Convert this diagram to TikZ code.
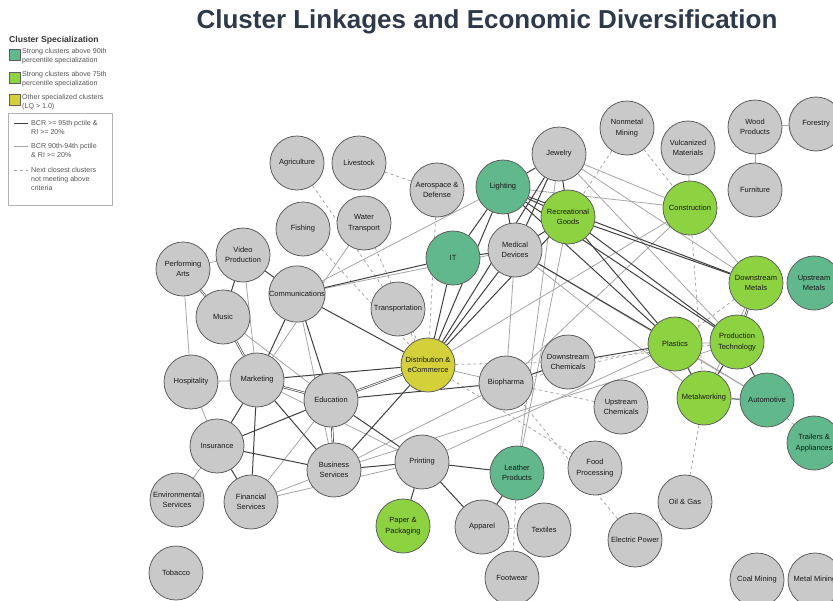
\documentclass[tikz,border=0pt]{standalone}
\usepackage{fontspec}
\setmainfont{Liberation Sans}
\usetikzlibrary{backgrounds}
\definecolor{topclr}{RGB}{96,184,140}
\definecolor{midclr}{RGB}{141,210,64}
\definecolor{othclr}{RGB}{212,208,58}
\definecolor{nodeclr}{RGB}{201,201,201}
\definecolor{rimclr}{RGB}{95,95,95}
\definecolor{titleclr}{RGB}{46,58,74}
\definecolor{legclr}{RGB}{85,85,85}
\begin{document}
\begin{tikzpicture}[x=1pt, y=-1pt,
    cl/.style   = {circle, draw=rimclr, line width=0.8pt, fill=nodeclr, align=center, inner sep=0,
                   minimum size=54pt, text=black!90, font=\fontsize{7.5}{10.5}\selectfont},
    top/.style  = {cl, fill=topclr},
    mid/.style  = {cl, fill=midclr},
    oth/.style  = {cl, fill=othclr},
    strong/.style = {draw=black!75, line width=1pt},
    pair/.style   = {draw=black!75, double=white, double distance=0.9pt, line width=0.65pt},
    weak/.style   = {draw=black!35, line width=0.8pt},
    near/.style   = {draw=black!35, line width=0.8pt, dash pattern=on 3pt off 3pt},
    swatch/.style = {draw=rimclr, line width=0.6pt, minimum size=11.5pt, inner sep=0},
    legtext/.style = {anchor=west, align=left, inner sep=0, text=legclr, font=\fontsize{7.1}{9}\selectfont}]

    \useasboundingbox (0,0) rectangle (833,600);

    \node[font=\fontsize{26}{30}\selectfont\bfseries, text=titleclr] (title) at (487,22) {Cluster Linkages and Economic Diversification};

    \node[anchor=west, inner sep=0, text=black!80, font=\fontsize{8.6}{10}\selectfont\bfseries] (lhead) at (9,40) {Cluster Specialization};
    \node[swatch, fill=topclr] (sw1) at (15,55) {};
    \node[swatch, fill=midclr] (sw2) at (15,78) {};
    \node[swatch, fill=othclr] (sw3) at (15,100) {};
    \node[legtext] (lt1) at (22,56.5)  {Strong clusters above 90th\\percentile specialization};
    \node[legtext] (lt2) at (22,79.5)  {Strong clusters above 75th\\percentile specialization};
    \node[legtext] (lt3) at (22,102.5) {Other specialized clusters\\(LQ \textgreater{} 1.0)};
    \node[draw=black!30, line width=0.6pt, anchor=north west, minimum width=104pt, minimum height=92pt] (lbox) at (8,113) {};
    \draw[strong] (14,123) -- (28,123);
    \draw[weak]   (14,146) -- (28,146);
    \draw[near]   (14,170) -- (28,170);
    \node[legtext] (lt4) at (31,127.5) {BCR \textgreater= 95th pctile \&\\RI \textgreater= 20\%};
    \node[legtext] (lt5) at (31,150.5) {BCR 90th-94th pctile\\\& RI \textgreater= 20\%};
    \node[legtext] (lt6) at (31,179)   {Next closest clusters\\not meeting above\\criteria};

    \node[cl]  (agri)   at (297,163) {Agriculture};
    \node[cl]  (live)   at (359,163) {Livestock};
    \node[cl]  (aero)   at (437,190) {Aerospace \&\\Defense};
    \node[top] (light)  at (503,187) {Lighting};
    \node[cl]  (jew)    at (559,154) {Jewelry};
    \node[cl]  (nonmet) at (627,128) {Nonmetal\\Mining};
    \node[cl]  (vulc)   at (688,148) {Vulcanized\\Materials};
    \node[cl]  (wood)   at (755,127) {Wood\\Products};
    \node[cl]  (forest) at (816,124) {Forestry};
    \node[cl]  (furn)   at (755,190) {Furniture};
    \node[cl]  (fish)   at (303,229) {Fishing};
    \node[cl]  (water)  at (364,223) {Water\\Transport};
    \node[mid] (recr)   at (568,217) {Recreational\\Goods};
    \node[mid] (constr) at (690,208) {Construction};
    \node[top] (it)     at (453,258) {IT};
    \node[cl]  (med)    at (515,250) {Medical\\Devices};
    \node[cl]  (perf)   at (183,269) {Performing\\Arts};
    \node[cl]  (video)  at (243,255) {Video\\Production};
    \node[cl]  (comm)   at (297,294) {Communications};
    \node[cl]  (transp) at (398,309) {Transportation};
    \node[mid] (dmet)   at (756,283) {Downstream\\Metals};
    \node[top] (umet)   at (814,283) {Upstream\\Metals};
    \node[cl]  (music)  at (223,317) {Music};
    \node[mid] (plast)  at (675,344) {Plastics};
    \node[mid] (prod)   at (737,342) {Production\\Technology};
    \node[oth] (dist)   at (428,365) {Distribution \&\\eCommerce};
    \node[cl]  (dchem)  at (568,362) {Downstream\\Chemicals};
    \node[cl]  (bio)    at (506,383) {Biopharma};
    \node[cl]  (hosp)   at (191,382) {Hospitality};
    \node[cl]  (mkt)    at (257,380) {Marketing};
    \node[cl]  (edu)    at (331,400) {Education};
    \node[mid] (metw)   at (704,398) {Metalworking};
    \node[top] (auto)   at (767,400) {Automotive};
    \node[cl]  (uchem)  at (621,407) {Upstream\\Chemicals};
    \node[cl]  (ins)    at (217,446) {Insurance};
    \node[cl]  (bus)    at (334,470) {Business\\Services};
    \node[cl]  (print)  at (422,462) {Printing};
    \node[top] (leath)  at (517,473) {Leather\\Products};
    \node[cl]  (food)   at (595,468) {Food\\Processing};
    \node[top] (trail)  at (814,443) {Trailers \&\\Appliances};
    \node[cl]  (env)    at (177,500) {Environmental\\Services};
    \node[cl]  (fin)    at (251,502) {Financial\\Services};
    \node[mid] (paper)  at (403,526) {Paper \&\\Packaging};
    \node[cl]  (app)    at (482,527) {Apparel};
    \node[cl]  (textl)  at (544,530) {Textiles};
    \node[cl]  (oil)    at (685,502) {Oil \& Gas};
    \node[cl]  (elec)   at (635,540) {Electric Power};
    \node[cl]  (tob)    at (176,573) {Tobacco};
    \node[cl]  (foot)   at (512,578) {Footwear};
    \node[cl]  (coal)   at (757,580) {Coal Mining};
    \node[cl]  (metmin) at (815,580) {Metal Mining};

    \begin{scope}[on background layer]
    \draw[near] (agri) -- (transp);
    \draw[near] (live) -- (aero);
    \draw[near] (aero) -- (dist);
    \draw[near] (fish) -- (dist);
    \draw[near] (water) -- (dist);
    \draw[near] (transp) -- (dist);
    \draw[near] (nonmet) -- (constr);
    \draw[near] (nonmet) -- (recr);
    \draw[near] (constr) -- (metw);
    \draw[near] (metw) -- (oil);
    \draw[near] (oil) -- (elec);
    \draw[near] (elec) -- (bio);
    \draw[near] (food) -- (dist);
    \draw[near] (bio) -- (uchem);
    \draw[near] (dist) -- (dchem);
    \draw[near] (plast) -- (bio);
    \draw[near] (prod) -- (dchem);
    \draw[near] (leath) -- (foot);
    \draw[near] (app) -- (textl);
    \draw[near] (auto) -- (trail);
    \draw[near] (dmet) -- (plast);

    \draw[weak] (perf) -- (video);
    \draw[weak] (perf) -- (hosp);
    \draw[weak] (hosp) -- (mkt);
    \draw[weak] (hosp) -- (ins);
    \draw[weak] (ins) -- (env);
    \draw[weak] (video) -- (mkt);
    \draw[weak] (music) -- (edu);
    \draw[weak] (comm) -- (bus);
    \draw[weak] (mkt) -- (print);
    \draw[weak] (mkt) -- (water);
    \draw[weak] (fin) -- (edu);
    \draw[weak] (fin) -- (bus);
    \draw[weak] (fin) -- (print);
    \draw[weak] (bus) -- (bio);
    \draw[weak] (bus) -- (prod);
    \draw[weak] (print) -- (plast);
    \draw[weak] (comm) -- (light);
    \draw[weak] (comm) -- (med);
    \draw[weak] (dist) -- (bio);
    \draw[weak] (dist) -- (constr);
    \draw[weak] (leath) -- (jew);
    \draw[weak] (leath) -- (recr);
    \draw[weak] (bio) -- (med);
    \draw[weak] (jew) -- (constr);
    \draw[weak] (jew) -- (dmet);
    \draw[weak] (jew) -- (prod);
    \draw[weak] (light) -- (constr);
    \draw[weak] (med) -- (auto);
    \draw[weak] (med) -- (metw);
    \draw[weak] (constr) -- (vulc);
    \draw[weak] (constr) -- (bio);
    \draw[weak] (constr) -- (dmet);
    \draw[weak] (wood) -- (furn);
    \draw[weak] (wood) -- (forest);
    \draw[weak] (plast) -- (prod);
    \draw[weak] (plast) -- (auto);
    \draw[weak] (dmet) -- (metw);

    \draw[pair]   (perf) -- (music);
    \draw[strong] (video) -- (music);
    \draw[strong] (video) -- (comm);
    \draw[pair]   (music) -- (mkt);
    \draw[strong] (comm) -- (mkt);
    \draw[strong] (comm) -- (edu);
    \draw[strong] (comm) -- (dist);
    \draw[pair]   (mkt) -- (edu);
    \draw[strong] (mkt) -- (ins);
    \draw[strong] (mkt) -- (fin);
    \draw[strong] (mkt) -- (bus);
    \draw[strong] (mkt) -- (dist);
    \draw[strong] (ins) -- (edu);
    \draw[strong] (ins) -- (bus);
    \draw[strong] (ins) -- (fin);
    \draw[pair]   (edu) -- (bus);
    \draw[pair]   (edu) -- (dist);
    \draw[strong] (edu) -- (bio);
    \draw[strong] (edu) -- (print);
    \draw[strong] (bus) -- (dist);
    \draw[strong] (bus) -- (print);
    \draw[strong] (print) -- (leath);
    \draw[strong] (print) -- (paper);
    \draw[strong] (print) -- (app);
    \draw[strong] (app) -- (leath);
    \draw[strong] (dist) -- (it);
    \draw[strong] (dist) -- (light);
    \draw[strong] (dist) -- (med);
    \draw[strong] (dist) -- (jew);
    \draw[strong] (dist) -- (recr);
    \draw[strong] (light) -- (jew);
    \draw[strong] (light) -- (med);
    \draw[strong] (light) -- (recr);
    \draw[strong] (light) -- (it);
    \draw[strong] (it) -- (med);
    \draw[strong] (it) -- (comm);
    \draw[strong] (med) -- (jew);
    \draw[strong] (med) -- (recr);
    \draw[strong] (jew) -- (recr);
    \draw[strong] (recr) -- (dmet);
    \draw[strong] (recr) -- (plast);
    \draw[strong] (recr) -- (prod);
    \draw[strong] (light) -- (prod);
    \draw[strong] (light) -- (plast);
    \draw[strong] (med) -- (plast);
    \draw[strong] (light) -- (dmet);
    \draw[strong] (plast) -- (dchem);
    \draw[strong] (bio) -- (dchem);
    \draw[strong] (plast) -- (metw);
    \draw[strong] (prod) -- (metw);
    \draw[strong] (prod) -- (auto);
    \draw[strong] (metw) -- (auto);
    \draw[pair]   (prod) -- (dmet);
    \end{scope}
\end{tikzpicture}
\end{document}
